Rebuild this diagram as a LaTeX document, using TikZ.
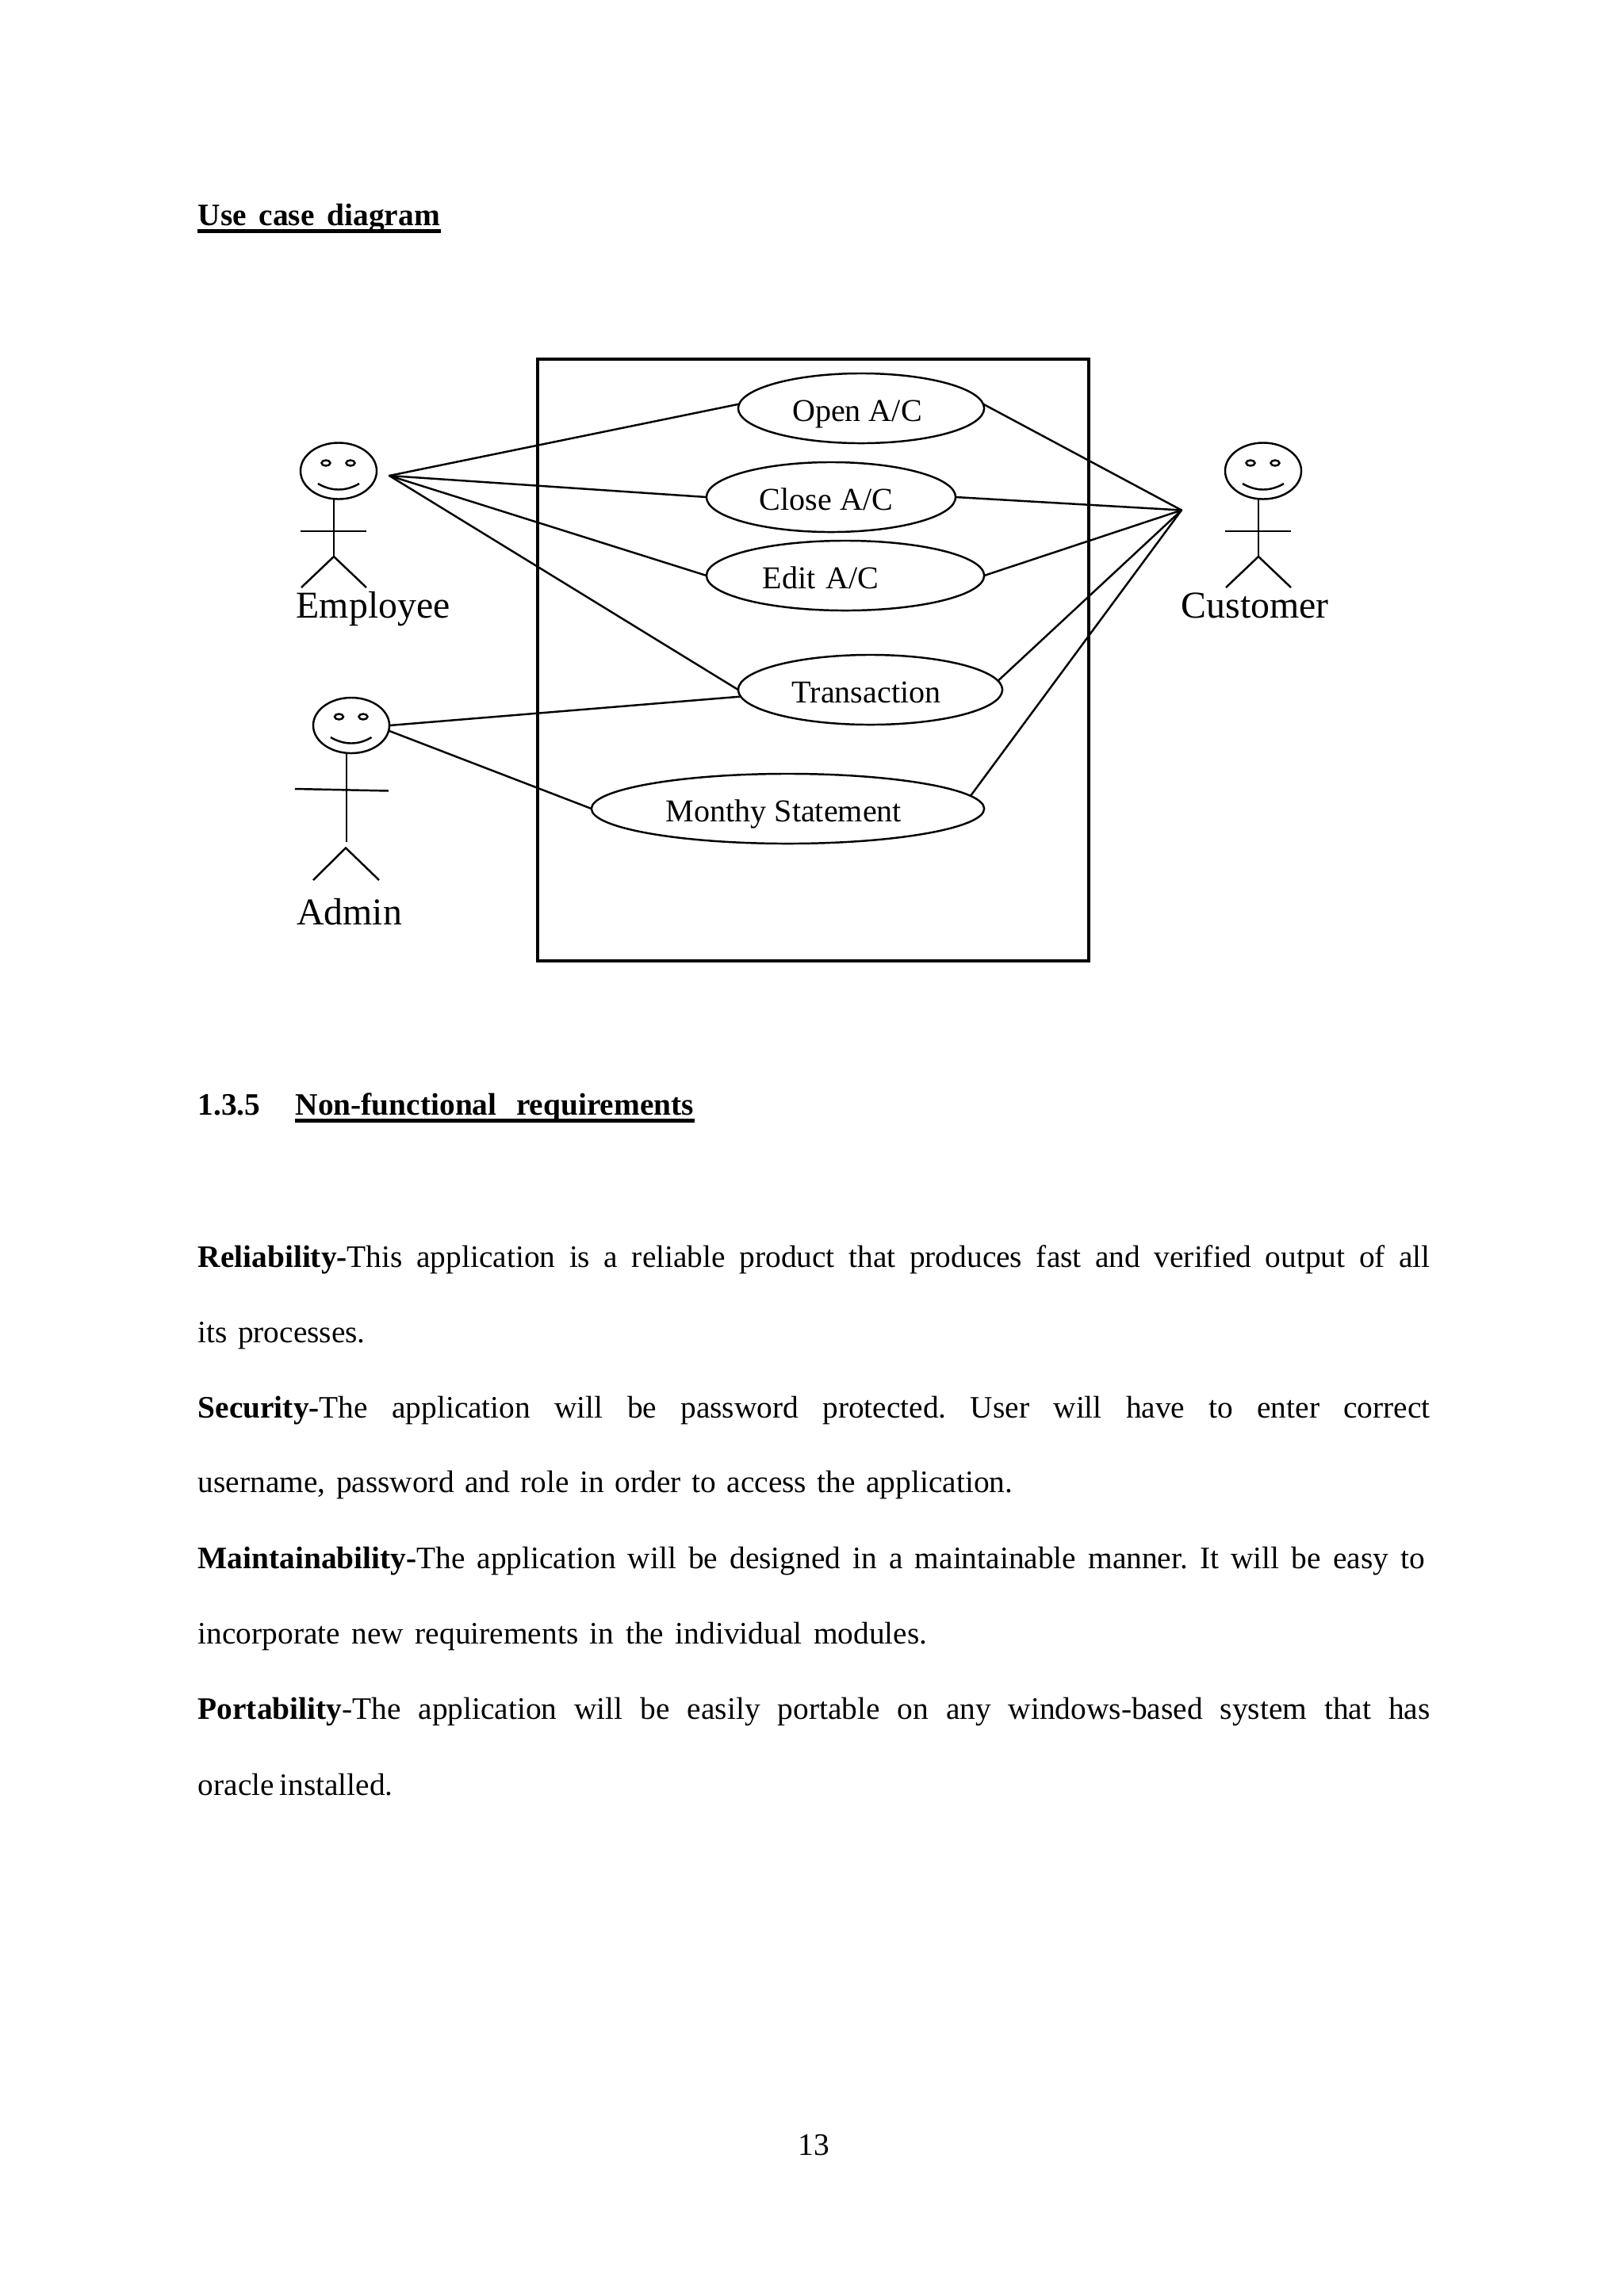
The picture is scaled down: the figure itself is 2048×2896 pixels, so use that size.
\documentclass[tikz,border=0pt]{standalone}
\usepackage{fontspec}
\setmainfont{Liberation Serif}
\frenchspacing
\usetikzlibrary{shapes.geometric}
\newcommand{\lblshift}[2]{\hspace*{-#1}#2\hspace*{#1}}
\tikzset{
  usecase/.style={ellipse, draw, line width=0.7pt, inner sep=0pt, outer sep=0pt,
                  minimum height=0.88cm, text height=0.32cm, text depth=0pt,
                  font=\fontsize{11.4}{14}\selectfont},
  assoc/.style={line width=0.7pt, line cap=round},
  limb/.style={line width=0.7pt},
  actorlbl/.style={anchor=base west, inner sep=0pt, font=\fontsize{13.6}{16}\selectfont},
  headline/.style={anchor=base west, inner sep=0pt, text depth=0pt,
                   font=\fontsize{11.2}{14}\selectfont\bfseries},
  bodyline/.style={anchor=base west, inner sep=0pt,
                   font=\fontsize{11.2}{14}\selectfont},
  underrule/.style={line width=1.4pt}
}
\begin{document}
\begin{tikzpicture}[x=0.01cm, y=-0.01cm]
        \useasboundingbox (0,0) rectangle (2048,2896);

        \node[headline] (title) at (249,284) {\makebox[3.05cm][s]{Use case diagram}};
        \draw[underrule] ([yshift=-0.07cm]title.south west) -- ([yshift=-0.07cm]title.south east);

        \draw[line width=0.9pt] (678,453) rectangle (1373,1212);

        \node[usecase, minimum width=3.1cm] (open) at (1086,515) {\lblshift{0.05cm}{Open A/C}};
        \node[usecase, minimum width=3.14cm] (close) at (1048,627) {\lblshift{0.06cm}{Close A/C}};
        \node[usecase, minimum width=3.5cm] (edit) at (1066,726) {\lblshift{0.31cm}{\makebox[1.46cm][s]{Edit A/C}}};
        \node[usecase, minimum width=3.33cm] (trans) at (1097.5,870) {\lblshift{0.05cm}{Transaction}};
        \node[usecase, minimum width=4.95cm] (month) at (993.5,1020) {\lblshift{0.05cm}{\makebox[2.97cm][s]{Monthy Statement}}};

        \foreach \who/\cx in {emp/427,cust/1593}{
          \node[ellipse, draw, line width=0.7pt, inner sep=0pt, outer sep=0pt,
                minimum width=0.96cm, minimum height=0.71cm] (\who head) at (\cx,594) {};
          \draw[limb] (\cx-16,584) ellipse [x radius=5.5, y radius=3.5];
          \draw[limb] (\cx+15,584) ellipse [x radius=5.5, y radius=3.5];
          \draw[limb] (\cx-26,610) .. controls (\cx-9,620) and (\cx+9,620) .. (\cx+26,610);
          \draw[limb] (\cx-6,630) -- (\cx-6,702);
          \draw[limb] (\cx-48,670) -- (\cx+35,670);
          \draw[limb] (\cx-47,741) -- (\cx-6,702) -- (\cx+35,741);
        }

        \node[ellipse, draw, line width=0.7pt, inner sep=0pt, outer sep=0pt,
              minimum width=0.96cm, minimum height=0.7cm] (adminhead) at (443,915) {};
        \draw[limb] (427.5,904) ellipse [x radius=5.5, y radius=3.5];
        \draw[limb] (458,904) ellipse [x radius=5.5, y radius=3.5];
        \draw[limb] (417,930) .. controls (434,940) and (452,940) .. (468.5,930);
        \draw[limb] (437,950) -- (437,1062);
        \draw[limb] (372,995) -- (490,997.5);
        \draw[limb] (395,1110) -- (436,1069.5) -- (478,1110);

        \node[actorlbl] (emplbl) at (373,779) {Employee};
        \node[actorlbl] (custlbl) at (1489,779) {Customer};
        \node[actorlbl] (adminlbl) at (373.5,1166) {Admin};

        \coordinate (empjoin) at (491,600);
        \coordinate (custjoin) at (1490,643.5);

        \foreach \uc in {open.178,close.west,edit.west,trans.west}{
          \draw[assoc] (empjoin) -- (\uc);}
        \foreach \uc in {open.2,close.east,edit.east,trans.4,month.4}{
          \draw[assoc] (custjoin) -- (\uc);}
        \draw[assoc] (adminhead.east) -- (trans.183);
        \draw[assoc] (adminhead.-8) -- (month.west);

        \node[headline] (secnum) at (249,1406) {1.3.5};
        \node[headline] (sectitle) at (372,1406) {\makebox[5.02cm][s]{Non-functional requirements}};
        \draw[underrule] ([yshift=-0.07cm]sectitle.south west) -- ([yshift=-0.07cm]sectitle.south east);

        \foreach \y/\w/\lbl in {
          1598/15.53/{\textbf{Reliability-}This application is a reliable product that produces fast and verified output of all},
          1693/2.11/{its processes.},
          1788/15.53/{\textbf{Security-}The application will be password protected. User will have to enter correct},
          1882/10.27/{username, password and role in order to access the application.},
          1978/15.46/{\textbf{Maintainability-}The application will be designed in a maintainable manner. It will be easy to},
          2073/9.19/{incorporate new requirements in the individual modules.},
          2168/15.53/{\textbf{Portability}-The application will be easily portable on any windows-based system that has},
          2264/2.45/{oracle installed.}}{
          \node[bodyline] (line\y) at (249,\y) {\makebox[\w cm][s]{\lbl}};}

        \node[bodyline, anchor=base] (pagenum) at (1026,2718) {13};
      \end{tikzpicture}
\end{document}
